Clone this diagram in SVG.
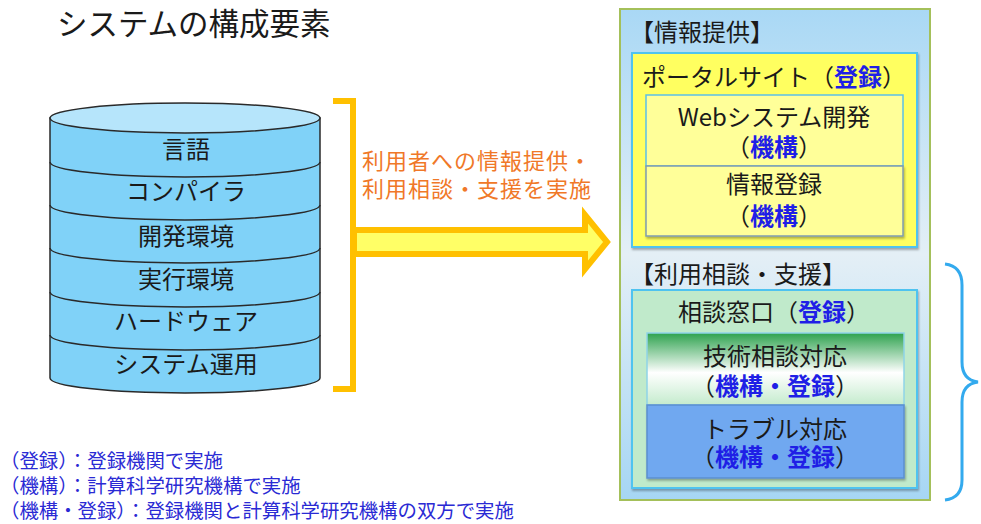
<svg xmlns="http://www.w3.org/2000/svg" width="981" height="524" viewBox="0 0 981 524">
<defs>
<style>
text{font-family:"Noto Sans CJK JP","Noto Sans",sans-serif;fill:#1a1a1a}
.cyl{font-size:24px;text-anchor:middle}
.pt{font-size:24px;text-anchor:middle}
.hd{font-size:24px}
.b{fill:#1f1fe6;font-weight:bold}
.fn{font-size:19.4px;fill:#2a2ad4}
.or{font-size:22px;fill:#f07828;letter-spacing:1px}
.band{fill:none;stroke:#2a2a2a;stroke-width:1.5}
</style>
<linearGradient id="panelG" x1="0" y1="0" x2="0" y2="1">
<stop offset="0" stop-color="#a9d8f5"/>
<stop offset="0.5" stop-color="#e4eff6"/>
<stop offset="1" stop-color="#a6d6f4"/>
</linearGradient>
<linearGradient id="techG" x1="0" y1="0" x2="0" y2="1">
<stop offset="0" stop-color="#2ea24e"/>
<stop offset="0.55" stop-color="#ffffff"/>
<stop offset="1" stop-color="#c4ebcd"/>
</linearGradient>
<filter id="sh" x="-5%" y="-5%" width="110%" height="115%">
<feDropShadow dx="1" dy="2" stdDeviation="1.2" flood-color="#000" flood-opacity="0.3"/>
</filter>
</defs>
<rect width="981" height="524" fill="#ffffff"/>

<g id="title">
<text x="57" y="35" style="font-size:30.5px">システムの構成要素</text>
</g>

<g id="cylinder">
<path d="M50,118 L50,378 A135,15 0 0 0 320,378 L320,118 Z" fill="#80d2f8" stroke="#2a2a2a" stroke-width="1.5"/>
<path class="band" d="M50,162 A135,15 0 0 0 320,162"/>
<path class="band" d="M50,205 A135,15 0 0 0 320,205"/>
<path class="band" d="M50,248 A135,15 0 0 0 320,248"/>
<path class="band" d="M50,292 A135,15 0 0 0 320,292"/>
<path class="band" d="M50,335 A135,15 0 0 0 320,335"/>
<ellipse cx="185" cy="118" rx="135" ry="15" fill="#b6e5fb" stroke="#2a2a2a" stroke-width="1.5"/>
<text class="cyl" x="186" y="158">言語</text>
<text class="cyl" x="186" y="200">コンパイラ</text>
<text class="cyl" x="186" y="245">開発環境</text>
<text class="cyl" x="186" y="288">実行環境</text>
<text class="cyl" x="186" y="330">ハードウェア</text>
<text class="cyl" x="186" y="373">システム運用</text>
</g>

<g id="connectors">
<path d="M333,101 L353,101 L353,389 L333,389" fill="none" stroke="#ffc000" stroke-width="6"/>
<polygon points="354,230 585,230 585,215 607,242 585,269 585,254 354,254" fill="#ffff66" stroke="#ffc000" stroke-width="6"/>
<path d="M945,264 Q962,266 962,285 L962,362 Q962,380 978,382 Q962,384 962,402 L962,480 Q962,498 945,500" fill="none" stroke="#33aaee" stroke-width="3"/>
</g>

<g id="arrow-label">
<text class="or" x="362" y="169">利用者への情報提供・</text>
<text class="or" x="362" y="197">利用相談・支援を実施</text>
</g>

<g id="panel">
<rect x="620" y="9" width="310" height="491" fill="url(#panelG)" stroke="#a4c05a" stroke-width="2"/>
<text class="hd" x="630" y="41">【情報提供】</text>
<text class="hd" x="630" y="283">【利用相談・支援】</text>
</g>

<g id="portal">
<rect x="632" y="53" width="285" height="194" fill="#ffff60" stroke="#4fc3f0" stroke-width="2" filter="url(#sh)"/>
<text class="pt" x="774" y="86">ポータルサイト（<tspan class="b">登録</tspan>）</text>
</g>

<g id="web">
<rect x="646" y="95" width="257" height="71" fill="#ffff99" stroke="#5bc0e8" stroke-width="1.5"/>
<text class="pt" x="774" y="126">Webシステム開発</text>
<text class="pt" x="774" y="156">（<tspan class="b">機構</tspan>）</text>
</g>

<g id="info-reg">
<rect x="646" y="166" width="257" height="70" fill="#ffff99" stroke="#7f9cb0" stroke-width="1.5" filter="url(#sh)"/>
<text class="pt" x="774" y="193">情報登録</text>
<text class="pt" x="774" y="225">（<tspan class="b">機構</tspan>）</text>
</g>

<g id="consult">
<rect x="632" y="290" width="285" height="198" fill="#c0eacb" stroke="#4fc3f0" stroke-width="2" filter="url(#sh)"/>
<text class="pt" x="774" y="321">相談窓口（<tspan class="b">登録</tspan>）</text>
</g>

<g id="tech">
<rect x="647" y="333" width="257" height="72" fill="url(#techG)" stroke="#8fd4e8" stroke-width="1.5"/>
<text class="pt" x="775" y="365">技術相談対応</text>
<text class="pt" x="775" y="395">（<tspan class="b">機構・登録</tspan>）</text>
</g>

<g id="trouble">
<rect x="647" y="405" width="257" height="73" fill="#6fa8f0" stroke="#5b8fd0" stroke-width="1.5" filter="url(#sh)"/>
<text class="pt" x="775" y="438">トラブル対応</text>
<text class="pt" x="775" y="466">（<tspan class="b">機構・登録</tspan>）</text>
</g>

<g id="legend">
<text class="fn" x="0" y="468">（登録）：登録機関で実施</text>
<text class="fn" x="0" y="493">（機構）：計算科学研究機構で実施</text>
<text class="fn" x="0" y="518">（機構・登録）：登録機関と計算科学研究機構の双方で実施</text>
</g>
</svg>
